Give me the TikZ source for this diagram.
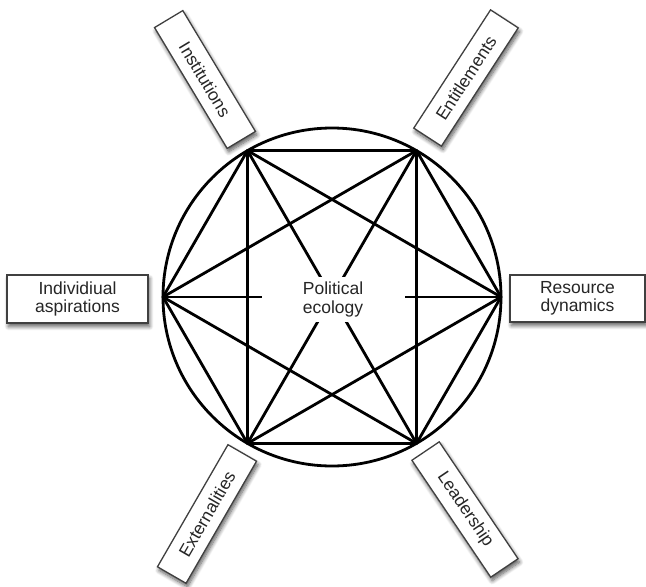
\documentclass[tikz,border=0pt]{standalone}
\usepackage{fontspec}
\setmainfont{Liberation Sans}
\usetikzlibrary{shadows.blur}
\begin{document}
\begin{tikzpicture}[x=1pt,y=-1pt,
  lab/.style={draw=black!75, line width=1.3pt, fill=white, inner sep=0pt,
    font=\fontsize{17.5}{18.5}\selectfont, text=black!85, align=center,
    blur shadow={shadow xshift=1.5pt, shadow yshift=-3.5pt, shadow blur radius=4pt, shadow blur steps=8, shadow opacity=65}},
  rbox/.style={lab, minimum width=141pt, minimum height=33pt},
  edge/.style={line width=2.8pt, line cap=round, line join=round}]
\useasboundingbox (0,0) rectangle (646,587);
\coordinate (O) at (332,297);
\coordinate (L) at (163,297);
\coordinate (R) at (501,297);
\coordinate (TL) at (247.5,150.6);
\coordinate (TR) at (416.5,150.6);
\coordinate (BL) at (247.5,443.4);
\coordinate (BR) at (416.5,443.4);
\draw[edge] (O) circle[radius=169pt];
\foreach \a/\b in {L/R,L/TL,L/TR,L/BL,L/BR,R/TL,R/TR,R/BL,R/BR,TL/TR,TL/BL,TL/BR,TR/BL,TR/BR,BL/BR}
  \draw[edge] (\a) -- (\b);
\node[fill=white, minimum width=143pt, minimum height=45pt, inner sep=0pt,
  font=\fontsize{17.5}{18.5}\selectfont, text=black!85, align=center] (pe) at (333,299.5) {Political\\ecology};
\node[rbox, rotate=-59] (inst) at (205,79.5) {Institutions};
\node[rbox, rotate=57] (ent) at (466,78) {Entitlements};
\node[rbox, rotate=60] (ext) at (207,514) {Externalities};
\node[rbox, rotate=-56] (lead) at (465,509.5) {Leadership};
\node[lab, minimum width=141pt, minimum height=48pt] (ind) at (77.5,299) {Individiual\\aspirations};
\node[lab, minimum width=135pt, minimum height=47pt] (res) at (577.5,298.5) {Resource\\dynamics};
\end{tikzpicture}
\end{document}
